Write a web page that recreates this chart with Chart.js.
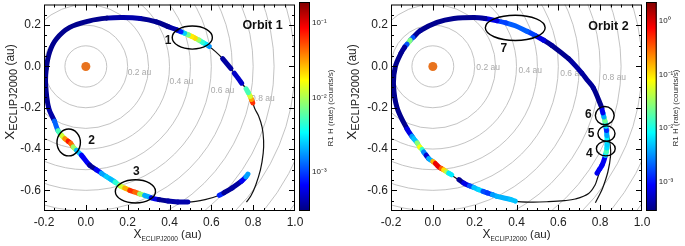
<!DOCTYPE html>
<html><head><meta charset="utf-8">
<script src="https://cdn.jsdelivr.net/npm/chart.js@4.4.0/dist/chart.umd.min.js"></script>
<style>
html,body{margin:0;padding:0;background:#fff;width:685px;height:246px;overflow:hidden;position:relative}
canvas{position:absolute;top:0}
</style></head><body>
<canvas id="p1" width="306" height="246" style="left:0px;width:306px;height:246px"></canvas>
<canvas id="c1" width="45" height="246" style="left:299px;width:45px;height:246px"></canvas>
<canvas id="p2" width="309" height="246" style="left:344px;width:309px;height:246px"></canvas>
<canvas id="c2" width="39" height="246" style="left:646px;width:39px;height:246px"></canvas>
<script>
// ---------------- data ----------------
const xTicks = [-0.2, 0.0, 0.2, 0.4, 0.6, 0.8, 1.0];
const yTicks = [-0.6, -0.4, -0.2, 0.0, 0.2];
const ringRadii = [0.1, 0.2, 0.3, 0.4, 0.5, 0.6, 0.7, 0.8, 0.9, 1.0, 1.1, 1.2, 1.3];
const ringLabelText = ['0.2 au', '0.4 au', '0.6 au', '0.8 au'];
const ringLabelX1 = [0.200, 0.400, 0.597, 0.790];
const ringLabelY1 = [-0.030, -0.075, -0.117, -0.156];
const ringLabelX2 = [0.208, 0.409, 0.609, 0.811];
const ringLabelY2 = [-0.005, -0.020, -0.037, -0.053];

// Orbit 1 trajectory (thin black line)
const track1X = [0.768,0.790,0.812,0.835,0.848,0.850,0.843,0.826,0.808,0.798,0.789,0.766,0.745,0.710,0.694,0.654,0.620,0.583,0.519,0.455,0.391,0.337,0.260,0.178,0.100,0.018,-0.077,-0.141,-0.173,-0.189,-0.192,-0.178,-0.150,-0.133,-0.077,-0.021,0.018,0.098,0.162,0.234,0.313,0.393,0.488,0.570,0.638,0.700,0.745,0.775];
const track1Y = [-0.657,-0.625,-0.575,-0.500,-0.420,-0.360,-0.295,-0.240,-0.205,-0.176,-0.160,-0.108,-0.081,-0.033,-0.010,0.038,0.072,0.102,0.141,0.168,0.194,0.216,0.232,0.237,0.234,0.221,0.189,0.133,0.070,-0.010,-0.089,-0.200,-0.265,-0.311,-0.367,-0.430,-0.478,-0.533,-0.577,-0.608,-0.636,-0.652,-0.657,-0.645,-0.624,-0.588,-0.555,-0.521];

// Orbit 1 measured rate (counts/s), null = no data
const orbit1X = [0.798,0.792,0.786,0.777,0.766,null,0.745,0.728,0.710,null,0.694,0.674,0.654,null,
 0.590,0.575,0.558,0.540,0.523,0.507,0.490,0.472,0.455,0.435,0.391,0.337,0.260,0.178,0.100,0.018,-0.077,-0.141,-0.173,-0.189,-0.192,-0.178,-0.150,-0.133,-0.117,-0.101,-0.085,-0.072,-0.061,-0.045,-0.021,0.018,0.050,0.074,0.098,0.118,0.140,0.162,0.186,0.210,0.234,0.257,0.281,0.313,0.350,0.393,0.440,0.488,null,
 0.638,0.660,0.700,0.745,0.765,0.775];
const orbit1Y = [-0.176,-0.160,-0.145,-0.127,-0.108,null,-0.081,-0.057,-0.033,null,-0.010,0.014,0.038,null,
 0.097,0.107,0.117,0.128,0.137,0.145,0.153,0.161,0.168,0.177,0.194,0.216,0.232,0.237,0.234,0.221,0.189,0.133,0.070,-0.010,-0.089,-0.200,-0.265,-0.311,-0.333,-0.350,-0.362,-0.373,-0.390,-0.406,-0.430,-0.478,-0.500,-0.517,-0.533,-0.546,-0.560,-0.577,-0.589,-0.600,-0.608,-0.617,-0.624,-0.636,-0.645,-0.652,-0.656,-0.657,null,
 -0.624,-0.612,-0.588,-0.555,-0.535,-0.521];
const orbit1Rate = [0.09,0.045,0.02,0.008,0.0035,null,0.00045,0.0005,0.00045,null,0.0004,0.00035,0.0004,null,
 0.0012,0.0025,0.0035,0.006,0.015,0.03,0.012,0.004,0.0015,0.00045,0.00033,0.00033,0.00035,0.00045,0.00033,0.00033,0.00033,0.00033,0.00033,0.00033,0.00035,0.00033,0.00045,0.0035,0.008,0.02,0.06,0.09,0.02,0.004,0.0012,0.00035,0.00035,0.0012,0.003,0.002,0.0025,0.008,0.02,0.04,0.1,0.02,0.004,0.001,0.00035,0.00033,0.00045,0.00035,null,
 0.002,0.00035,0.00035,0.0004,0.001,0.0035];

// Orbit 2 trajectory
const track2X = [0.777,0.795,0.812,0.837,0.850,0.848,0.838,0.822,0.808,0.768,0.713,0.649,0.569,0.489,0.394,0.307,0.196,0.100,0.020,-0.060,-0.115,-0.152,-0.179,-0.188,-0.171,-0.123,-0.063,0.012,0.076,0.148,0.220,0.307,0.394,0.470,0.553,0.630,0.681,0.745,0.775,0.789,0.809,0.825,0.832,0.830,0.820,0.808];
const track2Y = [-0.660,-0.625,-0.589,-0.510,-0.430,-0.382,-0.325,-0.260,-0.200,-0.105,-0.033,0.038,0.102,0.150,0.197,0.221,0.237,0.232,0.213,0.173,0.118,0.065,0.000,-0.089,-0.200,-0.303,-0.390,-0.470,-0.517,-0.565,-0.597,-0.629,-0.652,-0.657,-0.655,-0.650,-0.642,-0.615,-0.575,-0.535,-0.478,-0.430,-0.382,-0.300,-0.245,-0.205];

const orbit2X = [0.808,0.768,0.740,0.713,0.680,0.649,0.569,0.530,0.489,0.450,0.394,0.350,0.307,0.250,0.196,0.100,0.020,-0.060,-0.095,-0.108,-0.115,-0.123,-0.135,-0.152,-0.179,-0.188,-0.171,-0.123,-0.100,-0.091,-0.075,-0.063,-0.052,-0.044,-0.032,-0.020,0.000,0.012,0.028,0.040,0.052,0.066,0.076,0.090,null,
 0.125,0.148,0.175,0.196,0.220,0.240,0.260,0.285,0.307,0.340,0.371,0.394,null,
 0.785,0.797,0.809,0.818,0.825,0.829,0.832,0.833,0.833,0.832,0.830,0.827,0.823,0.818,0.813,0.808];
const orbit2Y = [-0.200,-0.105,-0.068,-0.033,0.005,0.038,0.102,0.127,0.150,0.170,0.197,0.211,0.221,0.232,0.237,0.232,0.213,0.173,0.140,0.127,0.118,0.108,0.093,0.065,0.000,-0.089,-0.200,-0.303,-0.338,-0.350,-0.370,-0.390,-0.402,-0.414,-0.430,-0.446,-0.460,-0.470,-0.486,-0.494,-0.501,-0.510,-0.517,-0.525,null,
 -0.548,-0.565,-0.578,-0.586,-0.597,-0.605,-0.612,-0.621,-0.629,-0.637,-0.644,-0.652,null,
 -0.517,-0.498,-0.478,-0.455,-0.430,-0.414,-0.395,-0.380,-0.360,-0.335,-0.310,-0.290,-0.265,-0.245,-0.225,-0.205];
const orbit2Rate = [0.00033,0.00033,0.0004,0.00033,0.00045,0.00033,0.00033,0.0004,0.0012,0.002,0.002,0.002,0.0012,0.0004,0.00033,0.00033,0.00033,0.00033,0.0004,0.008,0.08,0.008,0.0004,0.00033,0.00033,0.00033,0.00033,0.00033,0.0015,0.008,0.003,0.25,0.02,0.008,0.001,0.00033,0.05,0.5,1.5,0.5,0.2,0.05,0.025,0.002,null,
 0.00033,0.00035,0.0015,0.002,0.012,0.003,0.001,0.002,0.006,0.003,0.006,0.004,null,
 0.0012,0.0005,0.0015,0.0004,0.0015,0.03,0.008,0.005,0.006,0.01,0.0015,0.001,0.05,0.01,0.0015,0.0004];

// Sun
const sunX = [0.0];
const sunY = [0.0];

// Colour scale limits (log10 of counts/s)
const cbar1Log = [-3.52, -0.72];
const cbar2Log = [-3.54, 0.35];
const cbar1Ticks = [0.001, 0.01, 0.1];
const cbar1TickLabels = ['10\u207B\u00B3', '10\u207B\u00B2', '10\u207B\u00B9'];
const cbar2Ticks = [0.001, 0.01, 0.1, 1];
const cbar2TickLabels = ['10\u207B\u00B3', '10\u207B\u00B2', '10\u207B\u00B9', '10\u2070'];

// Annotations
const ell1Cx = [0.509, -0.082, 0.237];
const ell1Cy = [0.140, -0.368, -0.605];
const ell1Rx = [0.096, 0.056, 0.096];
const ell1Ry = [0.056, 0.065, 0.056];
const lab1Text = ['1', '2', '3'];
const lab1X = [0.393, 0.027, 0.242];
const lab1Y = [0.126, -0.359, -0.510];

const ell2Cx = [0.394, 0.822, 0.830, 0.827];
const ell2Cy = [0.187, -0.238, -0.325, -0.398];
const ell2Rx = [0.143, 0.045, 0.041, 0.045];
const ell2Ry = [0.061, 0.044, 0.037, 0.035];
const lab2Text = ['7', '6', '5', '4'];
const lab2X = [0.339, 0.744, 0.757, 0.748];
const lab2Y = [0.086, -0.232, -0.327, -0.422];

// ---------------- helpers ----------------
const FONT = '"Liberation Sans", Arial, Helvetica, sans-serif';
function jet(t) {
  t = Math.max(0, Math.min(1, t));
  const c = v => Math.round(255 * Math.max(0, Math.min(1, v)));
  return 'rgb(' + c(1.5 - Math.abs(4*t - 3)) + ',' + c(1.5 - Math.abs(4*t - 2)) + ',' + c(1.5 - Math.abs(4*t - 1)) + ')';
}
function pts(xs, ys) { return xs.map((x, i) => ({x: x, y: ys[i]})); }

function drawAxisTitle(ctx, cx, cy, rot, s1, s2, s3, sub) {
  ctx.save();
  ctx.translate(cx, cy);
  if (rot) ctx.rotate(-Math.PI / 2);
  ctx.fillStyle = '#222';
  ctx.textBaseline = 'alphabetic';
  ctx.textAlign = 'left';
  const f1 = s1 + 'px ' + FONT, f2 = s2 + 'px ' + FONT, f3 = s3 + 'px ' + FONT;
  ctx.font = f1; const w1 = ctx.measureText('X').width;
  ctx.font = f2; const w2 = ctx.measureText('ECLIPJ2000').width;
  ctx.font = f3; const w3 = ctx.measureText(' (au)').width;
  let x0 = -(w1 + w2 + w3) / 2;
  ctx.font = f1; ctx.fillText('X', x0, 0); x0 += w1;
  ctx.font = f2; ctx.fillText('ECLIPJ2000', x0, sub); x0 += w2;
  ctx.font = f3; ctx.fillText(' (au)', x0, 0);
  ctx.restore();
}

function panelPlugin(cfg) {
  return {
    id: 'panel' + cfg.name,
    beforeDatasetsDraw(chart) {
      const ctx = chart.ctx, a = chart.chartArea, xs = chart.scales.x, ys = chart.scales.y;
      ctx.save();
      ctx.beginPath(); ctx.rect(a.left, a.top, a.right - a.left, a.bottom - a.top); ctx.clip();
      const cx = xs.getPixelForValue(0), cy = ys.getPixelForValue(0);
      ctx.strokeStyle = '#bcbcbc'; ctx.lineWidth = 0.9;
      ringRadii.forEach(r => {
        const rx = xs.getPixelForValue(r) - cx, ry = cy - ys.getPixelForValue(r);
        ctx.beginPath(); ctx.ellipse(cx, cy, rx, ry, 0, 0, Math.PI * 2); ctx.stroke();
      });
      ctx.fillStyle = '#a9a9a9'; ctx.font = '8.5px ' + FONT;
      ctx.textAlign = 'left'; ctx.textBaseline = 'middle';
      ringLabelText.forEach((t, i) => ctx.fillText(t, xs.getPixelForValue(cfg.rlx[i]), ys.getPixelForValue(cfg.rly[i])));
      ctx.restore();
    },
    afterDatasetsDraw(chart) {
      const ctx = chart.ctx, a = chart.chartArea, xs = chart.scales.x, ys = chart.scales.y;
      ctx.save();
      ctx.beginPath(); ctx.rect(a.left, a.top, a.right - a.left, a.bottom - a.top); ctx.clip();
      ctx.strokeStyle = '#000'; ctx.lineWidth = 1.4;
      cfg.ecx.forEach((c, i) => {
        const px = xs.getPixelForValue(c), py = ys.getPixelForValue(cfg.ecy[i]);
        const rx = xs.getPixelForValue(c + cfg.erx[i]) - px, ry = py - ys.getPixelForValue(cfg.ecy[i] + cfg.ery[i]);
        ctx.beginPath(); ctx.ellipse(px, py, rx, ry, 0, 0, Math.PI * 2); ctx.stroke();
      });
      ctx.fillStyle = '#111'; ctx.font = 'bold 12px ' + FONT;
      ctx.textAlign = 'center'; ctx.textBaseline = 'middle';
      cfg.lt.forEach((t, i) => ctx.fillText(t, xs.getPixelForValue(cfg.lx[i]), ys.getPixelForValue(cfg.ly[i])));
      ctx.font = 'bold 12.5px ' + FONT; ctx.textAlign = 'right';
      ctx.fillText(cfg.title, xs.getPixelForValue(cfg.tx), ys.getPixelForValue(cfg.ty));
      ctx.restore();
    },
    afterDraw(chart) {
      const ctx = chart.ctx, a = chart.chartArea, xs = chart.scales.x, ys = chart.scales.y;
      ctx.save();
      ctx.strokeStyle = '#000'; ctx.lineWidth = 1;
      ctx.strokeRect(a.left + 0.5, a.top + 0.5, a.right - a.left - 1, a.bottom - a.top - 1);
      ctx.beginPath();
      for (let k = -4; k <= 20; k++) {
        const v = k * 0.05;
        const major = (k % 4 === 0);
        const L = major ? 6 : 3;
        const px = Math.round(xs.getPixelForValue(v)) + 0.5;
        if (px > a.left + 1 && px < a.right - 1) {
          ctx.moveTo(px, a.bottom); ctx.lineTo(px, a.bottom - L);
          ctx.moveTo(px, a.top); ctx.lineTo(px, a.top + L);
        }
      }
      for (let k = -14; k <= 6; k++) {
        const v = k * 0.05;
        const major = (k % 4 === 0);
        const L = major ? 6 : 3;
        const py = Math.round(ys.getPixelForValue(v)) + 0.5;
        if (py > a.top + 1 && py < a.bottom - 1) {
          ctx.moveTo(a.left, py); ctx.lineTo(a.left + L, py);
          ctx.moveTo(a.right, py); ctx.lineTo(a.right - L, py);
        }
      }
      ctx.stroke();
      ctx.restore();
      drawAxisTitle(ctx, (a.left + a.right) / 2 + cfg.xtOff, 238, false, 12, 6.5, 11.5, 3);
      drawAxisTitle(ctx, cfg.ytX, 92, true, 13.5, 11, 12, 3);
    }
  };
}

function makePanel(id, cfg) {
  const lmin = cfg.clog[0], lmax = cfg.clog[1];
  const tOf = r => (Math.log10(r) - lmin) / (lmax - lmin);
  const rates = cfg.rate;
  new Chart(document.getElementById(id), {
    type: 'line',
    data: {
      datasets: [
        { label: 'Sun', data: pts(sunX, sunY), showLine: false, pointRadius: 4.5, pointBackgroundColor: '#e8731e', pointBorderWidth: 0, order: 0 },
        { label: 'rate', data: pts(cfg.ox, cfg.oy), borderWidth: 5, pointRadius: 0, tension: 0.35, spanGaps: false,
          borderCapStyle: 'round', borderJoinStyle: 'round', order: 1,
          segment: { borderColor: c => jet(tOf(Math.sqrt(rates[c.p0DataIndex] * rates[c.p1DataIndex]))) } },
        { label: 'track', data: pts(cfg.tx_, cfg.ty_), borderColor: '#111', borderWidth: 1.2, pointRadius: 0, tension: 0.35, order: 2 }
      ]
    },
    options: {
      responsive: false, animation: false, events: [],
      layout: { padding: { left: 0, right: 11, top: 3, bottom: 0 } },
      plugins: { legend: { display: false }, tooltip: { enabled: false } },
      scales: {
        x: { type: 'linear', min: -0.2, max: 1.0,
          afterBuildTicks: s => { s.ticks = xTicks.map(v => ({ value: v })); },
          afterFit: s => { s.height = 35; s.paddingLeft = 0; s.paddingRight = 0; },
          grid: { display: false, drawTicks: false }, border: { display: false },
          ticks: { padding: 4, color: '#222', font: { size: 12, family: FONT }, maxRotation: 0,
            callback: v => (Math.abs(v) < 1e-9 ? 0 : v).toFixed(1) } },
        y: { type: 'linear', min: -0.7, max: 0.3,
          afterBuildTicks: s => { s.ticks = yTicks.map(v => ({ value: v })); },
          afterFit: s => { s.width = cfg.yw; s.paddingTop = 0; s.paddingBottom = 0; },
          grid: { display: false, drawTicks: false }, border: { display: false },
          ticks: { padding: 3, color: '#222', font: { size: 12, family: FONT },
            callback: v => (Math.abs(v) < 1e-9 ? 0 : v).toFixed(1) } }
      }
    },
    plugins: [panelPlugin(cfg)]
  });
}

function makeColorbar(id, logs, tickVals, tickLabels, axisW, titleX) {
  const lo = Math.pow(10, logs[0]), hi = Math.pow(10, logs[1]);
  new Chart(document.getElementById(id), {
    type: 'bar',
    data: { labels: [''], datasets: [{ data: [[lo, hi]], barPercentage: 1, categoryPercentage: 1, borderWidth: 0,
      backgroundColor: c => {
        const a = c.chart.chartArea;
        if (!a) return '#00f';
        const g = c.chart.ctx.createLinearGradient(0, a.bottom, 0, a.top);
        for (let i = 0; i <= 40; i++) g.addColorStop(i / 40, jet(i / 40));
        return g;
      } }] },
    options: {
      responsive: false, animation: false, events: [],
      layout: { padding: { left: 0, right: 0, top: 2, bottom: 35 } },
      plugins: { legend: { display: false }, tooltip: { enabled: false } },
      scales: {
        x: { display: false },
        y: { type: 'logarithmic', position: 'right', min: lo, max: hi,
          afterBuildTicks: s => { s.ticks = tickVals.map(v => ({ value: v })); },
          afterFit: s => { s.width = axisW; s.paddingTop = 0; s.paddingBottom = 0; },
          grid: { display: false, drawTicks: false }, border: { display: false },
          ticks: { padding: 2, color: '#222', font: { size: 8, family: FONT },
            callback: (v, i) => tickLabels[i] } }
      }
    },
    plugins: [{
      id: 'cbframe',
      afterDraw(chart) {
        const ctx = chart.ctx, a = chart.chartArea;
        ctx.save();
        ctx.strokeStyle = '#000'; ctx.lineWidth = 1;
        ctx.strokeRect(a.left + 0.5, a.top + 0.5, a.right - a.left - 1, a.bottom - a.top - 1);
        ctx.translate(titleX, 108);
        ctx.rotate(-Math.PI / 2);
        ctx.fillStyle = '#333'; ctx.font = '8px ' + FONT;
        ctx.textAlign = 'center'; ctx.textBaseline = 'middle';
        ctx.fillText('R1 H (rate) (counts/s)', 0, 0);
        ctx.restore();
      }
    }]
  });
}

makePanel('p1', { name: '1', ox: orbit1X, oy: orbit1Y, rate: orbit1Rate, tx_: track1X, ty_: track1Y, clog: cbar1Log,
  rlx: ringLabelX1, rly: ringLabelY1, ecx: ell1Cx, ecy: ell1Cy, erx: ell1Rx, ery: ell1Ry,
  lt: lab1Text, lx: lab1X, ly: lab1Y, title: 'Orbit 1', tx: 0.941, ty: 0.197, yw: 44, xtOff: -2, ytX: 14 });
makePanel('p2', { name: '2', ox: orbit2X, oy: orbit2Y, rate: orbit2Rate, tx_: track2X, ty_: track2Y, clog: cbar2Log,
  rlx: ringLabelX2, rly: ringLabelY2, ecx: ell2Cx, ecy: ell2Cy, erx: ell2Rx, ery: ell2Ry,
  lt: lab2Text, lx: lab2X, ly: lab2Y, title: 'Orbit 2', tx: 0.936, ty: 0.194, yw: 47, xtOff: 0, ytX: 12 });
makeColorbar('c1', cbar1Log, cbar1Ticks, cbar1TickLabels, 34, 32);
makeColorbar('c2', cbar2Log, cbar2Ticks, cbar2TickLabels, 28.3, 30);
</script>
</body></html>
